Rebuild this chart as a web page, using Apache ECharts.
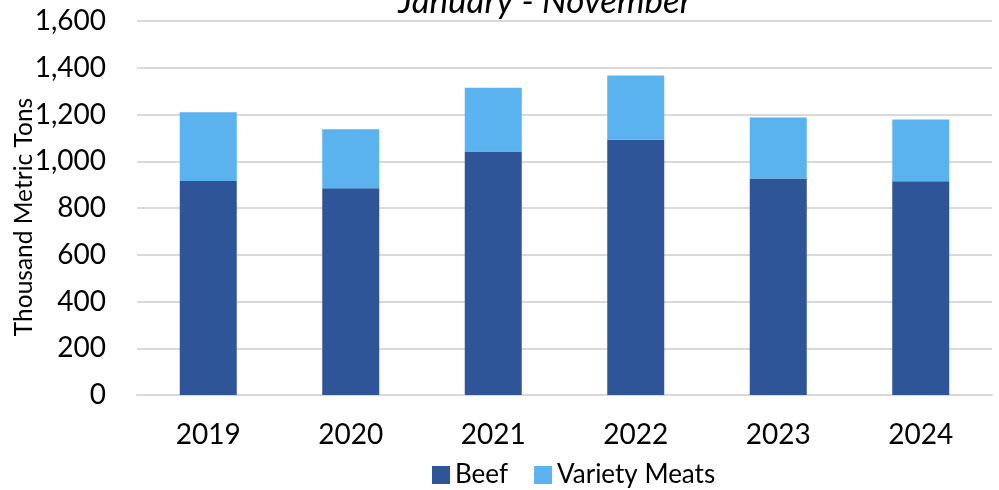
<!DOCTYPE html>
<html>
<head>
<meta charset="utf-8">
<script src="https://cdn.jsdelivr.net/npm/echarts@6/dist/echarts.min.js"></script>
<style>
  html, body { margin: 0; padding: 0; background: #fff; }
  #chart { width: 999px; height: 490px; }
</style>
</head>
<body>
<div id="chart"></div>
<script>
const years = ["2019", "2020", "2021", "2022", "2023", "2024"]
const beef = [916, 884, 1042, 1092, 926, 914]
const varietyMeats = [294, 253, 272, 275, 261, 265]

const font = "Lato, 'Open Sans', sans-serif"

const chart = echarts.init(document.getElementById("chart"))
chart.setOption({
    animation: false,
    title: {
        text: "January - November",
        left: 540,
        top: -21,
        textAlign: "center",
        textStyle: {
            fontFamily: font,
            fontSize: 35,
            fontStyle: "italic",
            fontWeight: "normal",
            color: "#000",
        },
    },
    // rotated y axis title, placed by hand like the original
    graphic: [
        {
            type: "text",
            x: 24,
            y: 217,
            rotation: Math.PI / 2,
            style: {
                text: "Thousand Metric Tons",
                fontFamily: font,
                fontSize: 24.5,
                fill: "#000",
                align: "center",
                verticalAlign: "middle",
            },
        },
    ],
    legend: {
        top: 457,
        left: 427,
        itemWidth: 18,
        itemHeight: 18,
        itemGap: 26,
        icon: "rect",
        textStyle: { fontFamily: font, fontSize: 26, color: "#000" },
    },
    grid: {
        left: 137,
        right: 7,
        top: 21,
        bottom: 95,
    },
    xAxis: {
        type: "category",
        data: years,
        axisLine: { lineStyle: { color: "#d9d9d9", width: 2 } },
        axisTick: { show: false },
        axisLabel: { fontFamily: font, fontSize: 28, color: "#000", margin: 26 },
    },
    yAxis: {
        type: "value",
        min: 0,
        max: 1600,
        interval: 200,
        axisLabel: {
            fontFamily: font,
            fontSize: 28,
            color: "#000",
            margin: 31,
            formatter: (v) => v.toLocaleString("en-US"),
        },
        splitLine: { lineStyle: { color: "#d9d9d9", width: 2 } },
    },
    series: [
        {
            name: "Beef",
            type: "bar",
            stack: "total",
            data: beef,
            barWidth: "40%",
            itemStyle: { color: "#2e5597" },
        },
        {
            name: "Variety Meats",
            type: "bar",
            stack: "total",
            data: varietyMeats,
            barWidth: "40%",
            itemStyle: { color: "#5ab2ee" },
        },
    ],
})
</script>
</body>
</html>
